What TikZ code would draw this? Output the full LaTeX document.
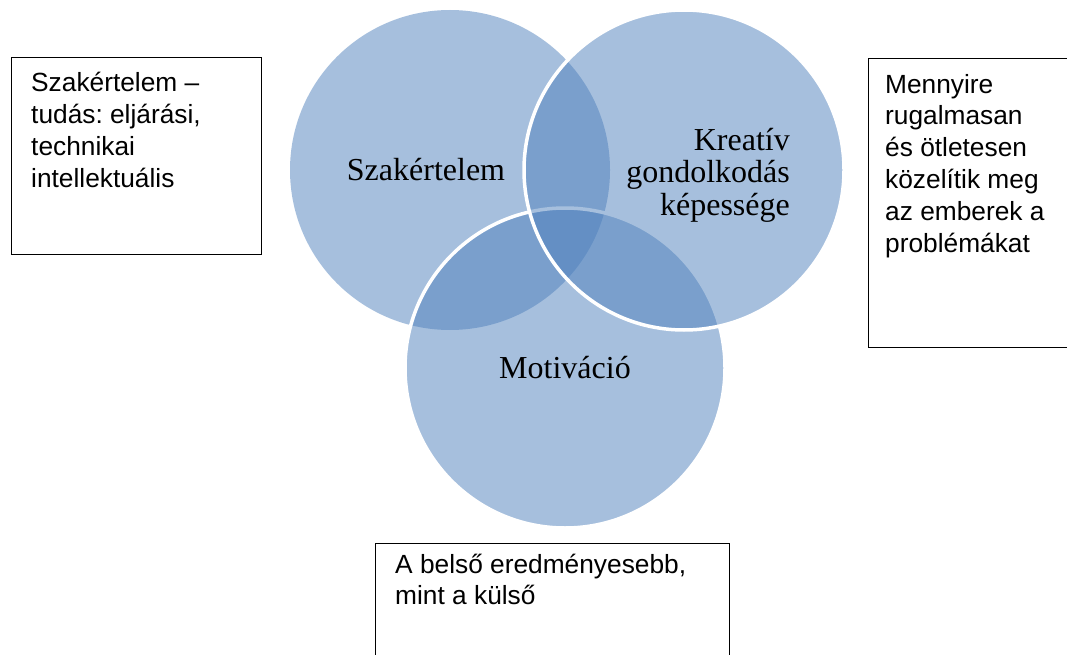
\documentclass[tikz,border=0pt]{standalone}
\usepackage{fontspec}
\setmainfont{Liberation Serif}
\newfontfamily\sansf{Liberation Sans}
\definecolor{vennblue}{HTML}{4F81BD}
\frenchspacing
\tikzset{
  venn/.style={circle, minimum size=320pt, inner sep=0pt, fill=vennblue, fill opacity=0.5},
  vennedge/.style={venn, draw=white, line width=3.5pt, draw opacity=1},
  vlabel/.style={inner sep=0pt, text=black, text opacity=1, font=\fontsize{32}{32.5}\selectfont},
  infobox/.style={draw=black, line width=1.2pt, inner sep=0pt, anchor=north west},
  infotext/.style={inner sep=0pt, anchor=base west, align=left, font=\sansf\fontsize{26.3}{31.8}\selectfont\frenchspacing}
}
\begin{document}
\begin{tikzpicture}[x=1pt,y=-1pt]
\path[use as bounding box, clip] (0,0) rectangle (1067,655);
\fill[white] (0,0) rectangle (1067,655);
% circles
\node[venn] (szak) at (450,170) {};
\node[vennedge] (motiv) at (565,368) {};
\node[vennedge] (kreat) at (684,170) {};
% circle labels
\node[vlabel] (szakl) at (426,170) {Szakértelem};
\node[vlabel, align=right, anchor=east] (kreatl) at (790,175) {Kreatív\\gondolkodás\\képessége};
\node[vlabel] (motivl) at (565,368) {Motiváció};
% boxes
\node[infobox, minimum width=250pt, minimum height=197pt] (lbox) at (11,57) {};
\node[infobox, minimum width=230pt, minimum height=289pt] (rbox) at (868,58) {};
\node[infobox, minimum width=354pt, minimum height=150pt] (bbox) at (375,543) {};
% texts (anchor = baseline of last line)
\node[infotext] (ltext) at (31,187.4) {Szakértelem –\\tudás: eljárási,\\technikai\\intellektuális};
\node[infotext] (rtext) at (885,252) {Mennyire\\rugalmasan\\és ötletesen\\közelítik meg\\az emberek a\\problémákat};
\node[infotext] (btext) at (395,604.8) {A belső eredményesebb,\\mint a külső};
\end{tikzpicture}
\end{document}
